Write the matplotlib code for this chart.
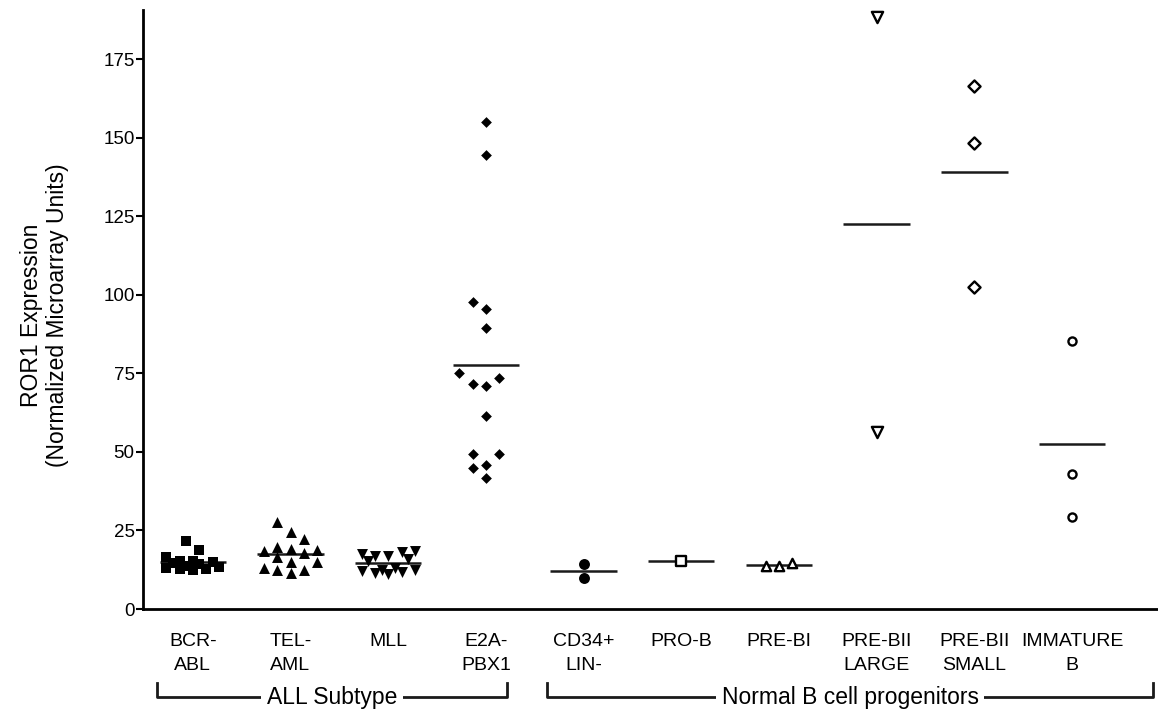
import numpy as np
import matplotlib.pyplot as plt
from matplotlib.transforms import blended_transform_factory

plt.rcParams['font.family'] = ['Liberation Sans', 'DejaVu Sans']

groups = ["BCR-\nABL", "TEL-\nAML", "MLL", "E2A-\nPBX1", "CD34+\nLIN-",
          "PRO-B", "PRE-BI", "PRE-BII\nLARGE", "PRE-BII\nSMALL", "IMMATURE\nB"]

# ROR1 expression values
bcr_abl = [21.6, 18.8, 16.6, 15.4, 15.2, 14.9, 14.6, 14.3, 13.6, 13.3, 13.0, 12.8, 12.6, 12.4]
tel_aml = [27.6, 24.5, 22.2, 19.8, 19.2, 18.8, 18.6, 17.8, 16.6, 15.0, 14.8, 13.0, 12.4, 12.4, 11.6]
mll = [18.4, 18.0, 17.5, 17.0, 16.8, 15.8, 15.2, 13.0, 12.4, 12.0, 11.6, 11.2, 11.8, 12.4]
e2a_pbx1 = [155.0, 144.4, 97.6, 95.4, 89.4, 75.0, 73.4, 71.7, 71.1, 61.5, 49.3, 49.3, 45.8, 44.8, 41.6]
cd34_lin = [14.2, 10.0]
pro_b = [15.3]
pre_bi = [14.5, 13.8, 13.8]
pre_bii_large = [188.5, 56.3]
pre_bii_small = [166.4, 148.3, 102.4]
immature_b = [85.3, 43.0, 29.3]

values = [bcr_abl, tel_aml, mll, e2a_pbx1, cd34_lin, pro_b, pre_bi,
          pre_bii_large, pre_bii_small, immature_b]
markers = ['s', '^', 'v', 'D', 'o', 's', '^', 'v', 'D', 'o']
filled = [True, True, True, True, True, False, False, False, False, False]
sizes = [58, 62, 62, 30, 62, 45, 45, 65, 38, 34]

W, H = 1158, 721
fig = plt.figure(figsize=(W / 100, H / 100), dpi=100)
ax = fig.add_axes([143 / W, 112 / H, 1015 / W, 599 / H])
ax.set_xlim(-0.51, 9.88)
ax.set_ylim(0, 190.6)

# pixel scale of the data units, used to spread the dots like a column scatter
xpx = ax.bbox.width / (ax.get_xlim()[1] - ax.get_xlim()[0])
ypx = ax.bbox.height / (ax.get_ylim()[1] - ax.get_ylim()[0])


def swarm(vals, step=6.65, d=13.1, maxw=29.0):
    # greedy column scatter; points overlap once the column is full
    vals = np.asarray(vals, dtype=float)
    offs = np.zeros(len(vals))
    cands = [0.0]
    k = 1
    while k * step <= maxw:
        cands += [-k * step, k * step]
        k += 1
    placed = []
    for i in np.argsort(vals):
        y = vals[i] * ypx
        best, best_d = 0.0, -1.0
        for x in cands:
            md = min([np.hypot(x - px, y - py) for px, py in placed] + [1e9])
            if md >= d:
                best = x
                break
            if md > best_d + 1e-6:
                best, best_d = x, md
        placed.append((best, y))
        offs[i] = best
    return offs / xpx


for i, vals in enumerate(values):
    xs = i + swarm(vals)
    ax.hlines(np.mean(vals), i - 0.34, i + 0.34, color='#1a1a1a', lw=1.8, zorder=2)
    if filled[i]:
        ax.scatter(xs, vals, marker=markers[i], s=sizes[i], color='black',
                   linewidths=0, zorder=3, clip_on=False)
    else:
        ax.scatter(xs, vals, marker=markers[i], s=sizes[i], facecolor='white',
                   edgecolor='black', linewidths=1.7, zorder=3, clip_on=False)

ax.spines['top'].set_visible(False)
ax.spines['right'].set_visible(False)
ax.spines['left'].set_linewidth(2.0)
ax.spines['bottom'].set_linewidth(2.0)

ax.set_yticks(range(0, 176, 25))
ax.tick_params(axis='y', direction='out', length=5, width=1.5, labelsize=13.5, pad=1)
ax.set_xticks(range(len(groups)))
ax.set_xticklabels(groups, fontsize=14, linespacing=1.6)
ax.tick_params(axis='x', length=0, pad=17)

ax.text(-0.097, 0.49, "ROR1 Expression\n(Normalized Microarray Units)",
        transform=ax.transAxes, rotation=90, ha='center', va='center',
        fontsize=16.5, linespacing=1.15)

# group brackets under the axis
tr = blended_transform_factory(ax.transData, ax.transAxes)
y_line, y_tip = -0.147, -0.1235
for x0, x1, label in [(-0.37, 3.22, "ALL Subtype"),
                      (3.63, 9.83, "Normal B cell progenitors")]:
    ax.plot([x0, x0, x1, x1], [y_tip, y_line, y_line, y_tip], color='#1a1a1a',
            lw=2.0, transform=tr, clip_on=False)
    ax.text((x0 + x1) / 2, y_line, label, transform=tr, ha='center', va='center',
            fontsize=16.5, bbox=dict(facecolor='white', edgecolor='none', pad=4))

fig.savefig("out.png", dpi=100)
